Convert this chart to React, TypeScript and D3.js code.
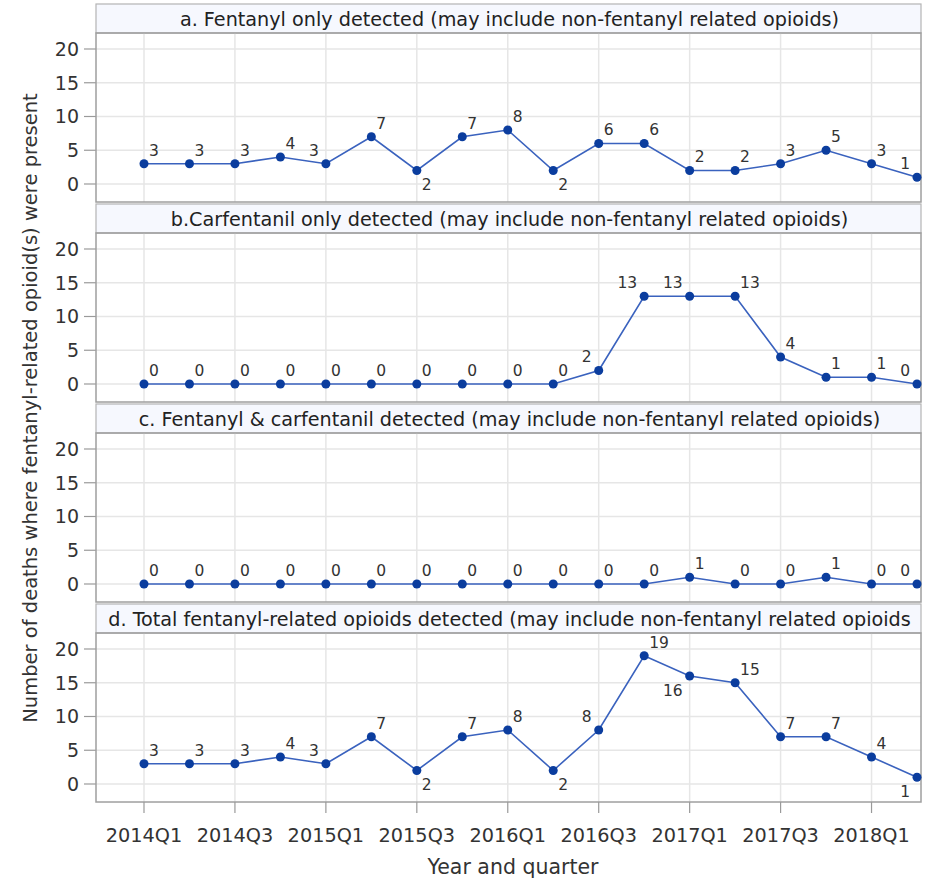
import React from "react";
import * as d3 from "d3";

const quarters = ["2014Q1","2014Q2","2014Q3","2014Q4","2015Q1","2015Q2","2015Q3","2015Q4","2016Q1","2016Q2","2016Q3","2016Q4","2017Q1","2017Q2","2017Q3","2017Q4","2018Q1","2018Q2"];
const tickLabels = ["2014Q1","2014Q3","2015Q1","2015Q3","2016Q1","2016Q3","2017Q1","2017Q3","2018Q1"];
const yTicks = [0, 5, 10, 15, 20];

const panelTitles = [
  "a. Fentanyl only detected (may include non-fentanyl related opioids)",
  "b.Carfentanil only detected (may include non-fentanyl related opioids)",
  "c. Fentanyl & carfentanil detected (may include non-fentanyl related opioids)",
  "d. Total fentanyl-related opioids detected (may include non-fentanyl related opioids",
];
const fentanylOnly = [3,3,3,4,3,7,2,7,8,2,6,6,2,2,3,5,3,1];
const carfentanilOnly = [0,0,0,0,0,0,0,0,0,0,2,13,13,13,4,1,1,0];
const bothDetected = [0,0,0,0,0,0,0,0,0,0,0,0,1,0,0,1,0,0];
const totalDetected = [3,3,3,4,3,7,2,7,8,2,8,19,16,15,7,7,4,1];

// label side per point (ne = above right, nw = above left, se = below right, sw = below left)
const sidesA = ["ne","ne","ne","ne","nw","ne","se","ne","ne","se","ne","ne","ne","ne","ne","ne","ne","nw"];
const sidesB = ["ne","ne","ne","ne","ne","ne","ne","ne","ne","ne","nw","nw","nw","ne","ne","ne","ne","nw"];
const sidesC = ["ne","ne","ne","ne","ne","ne","ne","ne","ne","ne","ne","ne","ne","ne","ne","ne","ne","nw"];
const sidesD = ["ne","ne","ne","ne","nw","ne","se","ne","ne","se","nw","ne","sw","ne","ne","ne","ne","sw"];

const seriesList = [fentanylOnly, carfentanilOnly, bothDetected, totalDetected];
const sidesList = [sidesA, sidesB, sidesC, sidesD];

const W = 925, H = 882;
const FONT = "'DejaVu Sans', sans-serif";
const frameL = 96, frameR = 921;
const panelStep = 200, headerTop = 4, headerH = 29, plotH = 169;

export default function App() {
  const x = d3.scaleLinear().domain([0, quarters.length - 1]).range([144, 917]);
  const line = (yS: d3.ScaleLinear<number, number>) =>
    d3.line<number>().x((_, i) => x(i)).y((d) => yS(d));

  return (
    <svg width={W} height={H} style={{ position: "absolute", left: 0, top: 0, background: "#fff" }} fontFamily={FONT}>
      <rect x={0} y={0} width={W} height={H} fill="#fff" />
      {seriesList.map((vals, p) => {
        const hTop = headerTop + p * panelStep;
        const pTop = hTop + headerH;
        const pBot = pTop + plotH;
        const y = d3.scaleLinear().domain([-2.667, 22.37]).range([pBot, pTop]);
        const sides = sidesList[p];
        return (
          <g key={p}>
            <rect x={frameL} y={hTop} width={frameR - frameL} height={headerH} fill="#f6f8fe" stroke="#b4b4b4" strokeWidth={1.2} />
            <text x={(frameL + frameR) / 2 + 1} y={hTop + 21.5} textAnchor="middle" fontSize={19.2} fill="#222">{panelTitles[p]}</text>
            {tickLabels.map((t) => {
              const i = quarters.indexOf(t);
              return <line key={t} x1={x(i)} x2={x(i)} y1={pTop} y2={pBot} stroke="#e6e6e6" strokeWidth={1.5} />;
            })}
            {yTicks.map((t) => (
              <g key={t}>
                <line x1={frameL} x2={frameR} y1={y(t)} y2={y(t)} stroke="#e6e6e6" strokeWidth={1.5} />
                <line x1={84} x2={frameL} y1={y(t)} y2={y(t)} stroke="#9a9a9a" strokeWidth={1.2} />
                <text x={79} y={y(t) + 7} textAnchor="end" fontSize={19} fill="#333">{t}</text>
              </g>
            ))}
            <rect x={frameL} y={pTop} width={frameR - frameL} height={plotH} fill="none" stroke="#9f9f9f" strokeWidth={1.5} />
            <path d={line(y)(vals) || ""} fill="none" stroke="#3a62be" strokeWidth={1.6} />
            {vals.map((v, i) => (
              <circle key={i} cx={x(i)} cy={y(v)} r={4.5} fill="#0b3d9e" />
            ))}
            {vals.map((v, i) => {
              const s = sides[i];
              const east = s[1] === "e";
              const north = s[0] === "n";
              return (
                <text key={"l" + i} x={east ? x(i) + 5 : x(i) - 7} y={north ? y(v) - 8 : y(v) + 20}
                  textAnchor={east ? "start" : "end"} fontSize={15.5} fill="#333">{v}</text>
              );
            })}
            {p === seriesList.length - 1 &&
              tickLabels.map((t) => {
                const i = quarters.indexOf(t);
                return (
                  <g key={"xt" + t}>
                    <line x1={x(i)} x2={x(i)} y1={pBot} y2={pBot + 11} stroke="#9a9a9a" strokeWidth={1.2} />
                    <text x={x(i)} y={pBot + 40} textAnchor="middle" fontSize={19.3} fill="#333">{t}</text>
                  </g>
                );
              })}
          </g>
        );
      })}
      <text x={513} y={874} textAnchor="middle" fontSize={20.5} fill="#333">Year and quarter</text>
      <text transform={`translate(37, 408) rotate(-90)`} textAnchor="middle" fontSize={19.5} fill="#333">
        Number of deaths where fentanyl-related opioid(s) were present
      </text>
    </svg>
  );
}
